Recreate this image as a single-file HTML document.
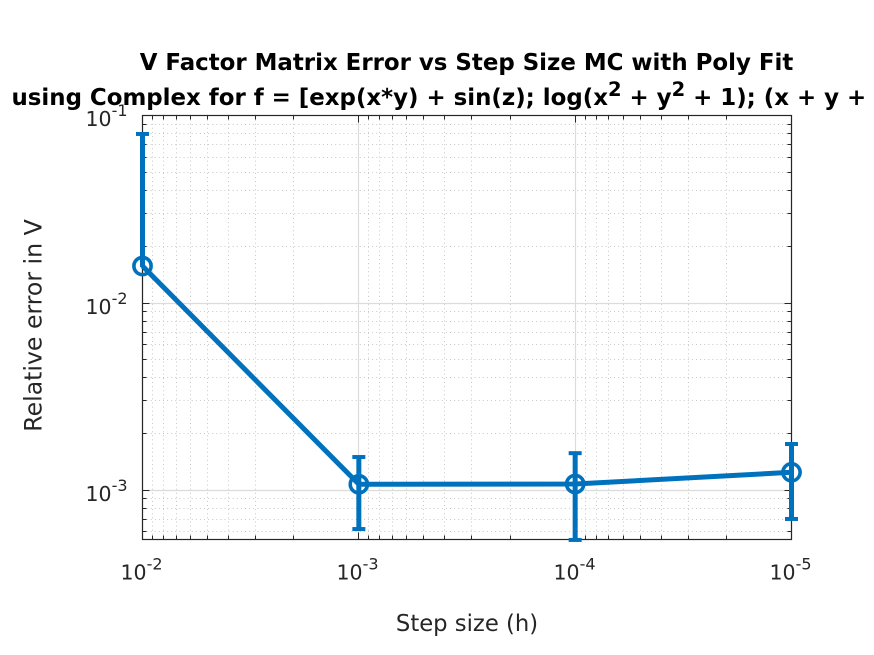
<!DOCTYPE html>
<html>
<head>
<meta charset="utf-8">
<style>
html,body{margin:0;padding:0;background:#fff;}
svg{display:block;font-family:"DejaVu Sans","Liberation Sans",sans-serif;}
</style>
</head>
<body>
<svg id="chart" width="874" height="655" viewBox="0 0 874 655" xmlns="http://www.w3.org/2000/svg">
<rect width="874" height="655" fill="#fff"></rect>
<g id="grid"></g>
<g id="ticks"></g>
<rect x="142.5" y="115.5" width="649" height="424" fill="none" stroke="#262626" stroke-width="1.2"></rect>
<g id="series"></g>
<g id="labels"></g>
<text x="466.5" y="70" text-anchor="middle" font-size="22.9" font-weight="bold" fill="#000">V Factor Matrix Error vs Step Size MC with Poly Fit</text>
<text x="11.5" y="105" font-size="22.9" font-weight="bold" fill="#000">using Complex for f = [exp(x*y) + sin(z); log(x<tspan dy="-9" font-size="19.5">2</tspan><tspan dy="9"> + y</tspan><tspan dy="-9" font-size="19.5">2</tspan><tspan dy="9"> + 1); (x + y + z)]</tspan></text>
<text x="467" y="631" text-anchor="middle" font-size="22.7" fill="#262626">Step size (h)</text>
<text transform="translate(41.5,325.5) rotate(-90)" text-anchor="middle" font-size="23.6" fill="#262626">Relative error in V</text>
</svg>
<script>
var stepSizes = [1e-2, 1e-3, 1e-4, 1e-5];
var errorValues = [0.01575, 0.001078, 0.001082, 0.001249];
var errorUpper = [0.0798, 0.001507, 0.00158, 0.001768];
var errorLower = [null, 0.000622, 0.000544, 0.000704];
var xTickExponents = [-2, -3, -4, -5];
var yTickExponents = [-1, -2, -3];
var minorMultipliers = [2, 3, 4, 5, 6, 7, 8, 9];

var NS = 'http://www.w3.org/2000/svg';
var left = 142.5, right = 791.5, top_ = 115.5, bottom = 539.5;
var blue = '#0072BD';

function xScale(v) {
  return left + (-2 - Math.log10(v)) * (right - left) / 3;
}
function yScale(v) {
  return 115.6 + (-1 - Math.log10(v)) * 187.4;
}
function make(parent, tag, attrs) {
  var el = document.createElementNS(NS, tag);
  for (var k in attrs) { el.setAttribute(k, attrs[k]); }
  parent.appendChild(el);
  return el;
}
function line(parent, x1, y1, x2, y2, color, width, dash) {
  var attrs = {x1: x1, y1: y1, x2: x2, y2: y2, stroke: color, 'stroke-width': width};
  if (dash) { attrs['stroke-dasharray'] = dash; }
  return make(parent, 'line', attrs);
}

var grid = document.getElementById('grid');
var ticks = document.getElementById('ticks');
var labels = document.getElementById('labels');
var series = document.getElementById('series');
var dots = '1 3.1';
var minorColor = '#c8c8c8';

xTickExponents.forEach(function (e, i) {
  var x = Math.round(xScale(Math.pow(10, e)) - 0.5) + 0.5;
  var g = line(grid, x, top_, x, bottom, '#dcdcdc', 1.2);
  
  
  line(ticks, x, bottom, x, bottom - 7, '#262626', 1);
  line(ticks, x, top_, x, top_ + 7, '#262626', 1);
  if (i < xTickExponents.length - 1) {
    minorMultipliers.forEach(function (m) {
      var mx = Math.round(xScale(m * Math.pow(10, e - 1)) - 0.5) + 0.5;
      var mg = line(grid, mx, top_, mx, bottom, minorColor, 1, dots);
      
      
      line(ticks, mx, bottom, mx, bottom - 4, '#262626', 1);
      line(ticks, mx, top_, mx, top_ + 4, '#262626', 1);
    });
  }
  var t = make(labels, 'text', {x: x - 22, y: 579.5, 'font-size': 20.5, fill: '#262626'});
  
  
  t.textContent = '10';
  var s = make(t, 'tspan', {dy: -10, 'font-size': 16});
  s.textContent = String(e);
});

yTickExponents.forEach(function (e) {
  var y = Math.round(yScale(Math.pow(10, e)) - 0.5) + 0.5;
  if (e !== -1) {
    var g = line(grid, left, y, right, y, '#dcdcdc', 1.2);
    
    
  }
  line(ticks, left, y, left + 7, y, '#262626', 1);
  line(ticks, right, y, right - 7, y, '#262626', 1);
  var t = make(labels, 'text', {x: 85.5, y: y + 10.7, 'font-size': 20.5, fill: '#262626'});
  
  
  t.textContent = '10';
  var s = make(t, 'tspan', {dy: -10, 'font-size': 16});
  s.textContent = String(e);
});

[-2, -3, -4].forEach(function (e) {
  minorMultipliers.forEach(function (m) {
    var v = m * Math.pow(10, e);
    var py = yScale(v);
    if (py > bottom || py < top_) { return; }
    var y = Math.round(py - 0.5) + 0.5;
    var mg = line(grid, left, y, right, y, minorColor, 1, dots);
    
    
    line(ticks, left, y, left + 4, y, '#262626', 1);
    line(ticks, right, y, right - 4, y, '#262626', 1);
  });
});

var pts = stepSizes.map(function (h, i) {
  return xScale(h) + ',' + yScale(errorValues[i]);
}).join(' ');
var poly = make(series, 'polyline', {points: pts, fill: 'none', stroke: blue, 'stroke-width': 5});



stepSizes.forEach(function (h, i) {
  var x = xScale(h);
  var yv = yScale(errorValues[i]);
  var yu = yScale(errorUpper[i]);
  var yl = errorLower[i] === null ? yv + 1 : yScale(errorLower[i]);
  var bar = line(series, x, yu, x, yl, blue, 5);
  
  
  line(series, x - 6.5, yu, x + 6.5, yu, blue, 4);
  if (errorLower[i] !== null) {
    line(series, x - 6.5, yl, x + 6.5, yl, blue, 4);
  }
  var c = make(series, 'circle', {cx: x, cy: yv, r: 8.6, fill: 'none', stroke: blue, 'stroke-width': 3.6});
  
  
});
</script>
</body>
</html>
